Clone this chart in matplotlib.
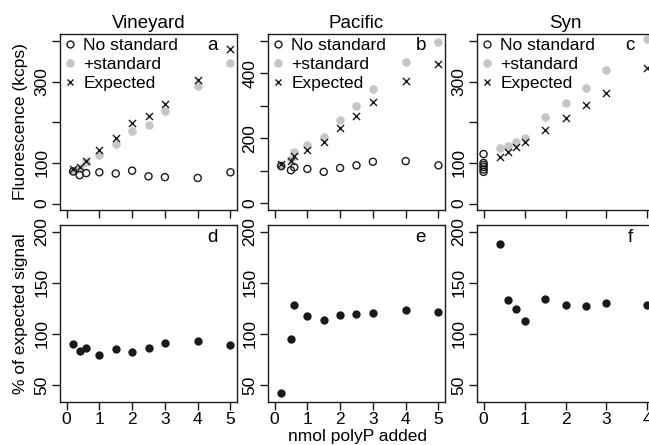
import matplotlib
matplotlib.use("Agg")
import matplotlib.pyplot as plt
from matplotlib.lines import Line2D

plt.rcParams['font.family'] = ['Liberation Sans', 'DejaVu Sans']
FS = 12.5

# ---- data ----
titles = ["Vineyard", "Pacific", "Syn"]
letters_top = ["a", "b", "c"]
letters_bot = ["d", "e", "f"]

vine_x = [0.2, 0.4, 0.6, 1, 1.5, 2, 2.5, 3, 4, 5]
vine_nostd = [79, 70, 75, 77, 74, 81, 67, 65, 63, 77]
vine_std = [80, 88, 102, 120, 147, 179, 193, 228, 289, 346]
vine_exp = [85, 89, 106, 133, 161, 198, 215, 245, 305, 380]
vine_pct = [90, 83, 86, 79.5, 85, 82.8, 86, 91.5, 93.5, 89]

pac_x = [0.2, 0.5, 0.6, 1, 1.5, 2, 2.5, 3, 4, 5]
pac_nostd = [115, 102, 111, 106, 97, 109, 117, 128, 130, 117]
pac_std = [116, 135, 157, 178, 203, 255, 300, 351, 435, 494]
pac_exp = [122, 130, 145, 165, 190, 232, 268, 312, 377, 428]
pac_pct = [42.6, 95, 128.6, 117.2, 113.7, 118.9, 119.8, 120.2, 123, 121]

syn_nostd_x = [0, 0, 0, 0, 0, 0]
syn_nostd = [122, 100, 95, 90, 84, 78]
syn_x = [0.4, 0.6, 0.8, 1, 1.5, 2, 2.5, 3, 4]
syn_std = [137, 141, 152, 161, 213, 248, 284, 329, 406]
syn_exp = [115, 127, 139, 152, 182, 212, 243, 273, 335]
syn_pct = [188, 132.8, 124.7, 112.7, 134.2, 128.6, 127, 130.2, 128.6]

datasets = [
    dict(nx=vine_x, ny=vine_nostd, x=vine_x, std=vine_std, exp=vine_exp, pct=vine_pct),
    dict(nx=pac_x, ny=pac_nostd, x=pac_x, std=pac_std, exp=pac_exp, pct=pac_pct),
    dict(nx=syn_nostd_x, ny=syn_nostd, x=syn_x, std=syn_std, exp=syn_exp, pct=syn_pct),
]

# ---- layout (pixel based) ----
W, H = 649, 445
fig = plt.figure(figsize=(W / 100, H / 100), dpi=100)
lefts = [60, 268, 477]
aw = 177
top_y0, top_y1 = 34, 210
bot_y0, bot_y1 = 225, 402

xlims = [(-0.2, 5.2), (-0.2, 5.2), (-0.16, 4.16)]
xticks = [[0, 1, 2, 3, 4, 5], [0, 1, 2, 3, 4, 5], [0, 1, 2, 3, 4]]
top_ylims = [(-16, 418), (-20, 520), (-16, 418)]
top_yticks = [[0, 100, 200, 300, 400], [0, 100, 200, 300, 400, 500], [0, 100, 200, 300, 400]]
top_ylabels = [["0", "100", "", "300", ""], ["0", "", "200", "", "400", ""], ["0", "100", "", "300", ""]]
bot_ylim = (33.6, 206.4)
bot_yticks = [50, 100, 150, 200]

gray = "#c6c6c6"
dark = "#1a1a1a"


def style(ax):
    for s in ax.spines.values():
        s.set_linewidth(1.0)
        s.set_color(dark)
    ax.tick_params(direction='out', length=5.5, width=1.0, color=dark,
                   labelsize=FS, pad=2)
    for lab in ax.get_yticklabels():
        lab.set_rotation(90)
        lab.set_va('center')


for i, d in enumerate(datasets):
    l = lefts[i]
    axt = fig.add_axes([l / W, 1 - top_y1 / H, aw / W, (top_y1 - top_y0) / H])
    axt.scatter(d['x'], d['std'], s=38, color=gray, marker='o', linewidths=0, zorder=2,
                clip_on=False, label='+standard')
    axt.scatter(d['nx'], d['ny'], s=26, facecolors='none', edgecolors=dark, marker='o',
                linewidths=1.0, zorder=3, clip_on=False, label='No standard')
    axt.scatter(d['x'], d['exp'], s=26, color=dark, marker='x', linewidths=1.0, zorder=4,
                clip_on=False, label='Expected')
    axt.set_xlim(*xlims[i])
    axt.set_ylim(*top_ylims[i])
    axt.set_xticks(xticks[i])
    axt.set_xticklabels([])
    axt.set_yticks(top_yticks[i])
    axt.set_yticklabels(top_ylabels[i])
    axt.set_title(titles[i], fontsize=FS + 1, pad=4)
    axt.text(0.864, 0.935, letters_top[i], transform=axt.transAxes, fontsize=FS + 1,
             ha='center', va='center')
    handles = [
        Line2D([], [], linestyle='none', marker='o', markersize=5, markerfacecolor='none',
               markeredgecolor=dark, markeredgewidth=1.0),
        Line2D([], [], linestyle='none', marker='o', markersize=6.2, markerfacecolor=gray,
               markeredgewidth=0),
        Line2D([], [], linestyle='none', marker='x', markersize=5, color=dark,
               markeredgewidth=1.0),
    ]
    axt.legend(handles, ['No standard', '+standard', 'Expected'], loc='upper left',
               frameon=False, fontsize=FS, handlelength=0.7, handletextpad=0.4,
               borderaxespad=0.0, borderpad=0.25, labelspacing=0.22)
    style(axt)
    if i == 0:
        axt.set_ylabel("Fluorescence (kcps)", fontsize=FS)
        axt.yaxis.set_label_coords(-(60 - 28) / aw, 0.5)

    axb = fig.add_axes([l / W, 1 - bot_y1 / H, aw / W, (bot_y1 - bot_y0) / H])
    axb.scatter(d['x'], d['pct'], s=36, color=dark, marker='o', linewidths=0, zorder=3,
                clip_on=False)
    axb.set_xlim(*xlims[i])
    axb.set_ylim(*bot_ylim)
    axb.set_xticks(xticks[i])
    axb.set_yticks(bot_yticks)
    axb.text(0.864, 0.93, letters_bot[i], transform=axb.transAxes, fontsize=FS + 1,
             ha='center', va='center')
    style(axb)
    if i == 0:
        axb.set_ylabel("% of expected signal", fontsize=FS)
        axb.yaxis.set_label_coords(-(60 - 28) / aw, 0.5)

fig.text(357 / W, 1 - 437 / H, "nmol polyP added", fontsize=FS, ha='center', va='center')

fig.savefig("out.png", dpi=100)
